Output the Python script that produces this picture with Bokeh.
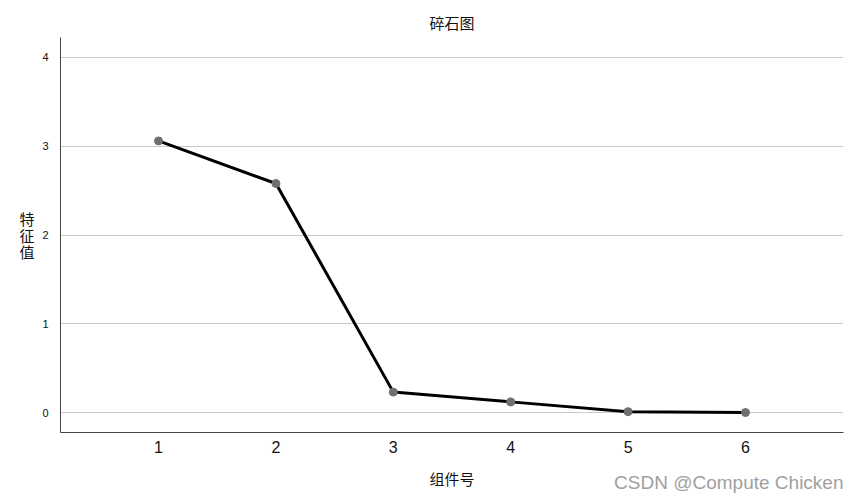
from bokeh.plotting import figure
from bokeh.models import Range1d, FixedTicker, Title
from bokeh.embed import file_html
from bokeh.resources import INLINE

components = [1, 2, 3, 4, 5, 6]
eigenvalues = [3.06, 2.58, 0.23, 0.12, 0.01, 0.00]
y_ticks = [0, 1, 2, 3, 4]

p = figure(width=850, height=500, output_backend="svg", toolbar_location=None,
           x_range=Range1d(0.165, 6.835), y_range=Range1d(-0.225, 4.225),
           min_border_left=60, min_border_right=7, min_border_top=37, min_border_bottom=68)
p.outline_line_color = None
p.title.text = "碎石图"
p.title.align = "center"
p.title.text_font = "Noto Sans CJK SC"
p.title.text_font_size = "15px"
p.title.text_font_style = "normal"
p.title.text_color = "#111111"

p.xgrid.grid_line_color = None
p.ygrid.grid_line_color = "#c8c8c8"
p.ygrid.ticker = FixedTicker(ticks=y_ticks)

p.xaxis.ticker = FixedTicker(ticks=components)
p.yaxis.ticker = FixedTicker(ticks=y_ticks)
for ax in (p.xaxis, p.yaxis):
    ax.major_tick_line_color = None
    ax.minor_tick_line_color = None
    ax.axis_line_color = "#444444"
    ax.major_label_text_font = "Liberation Sans"
    ax.major_label_text_color = "#111111"
p.xaxis.major_label_text_font_size = "16px"
p.yaxis.major_label_text_font_size = "11px"
p.xaxis.major_label_standoff = 2
p.yaxis.major_label_standoff = 6

p.xaxis.axis_label = "组件号"
p.xaxis.axis_label_text_font = "Noto Sans CJK SC"
p.xaxis.axis_label_text_font_size = "15px"
p.xaxis.axis_label_text_font_style = "normal"
p.xaxis.axis_label_text_color = "#111111"
p.xaxis.axis_label_standoff = 12

p.yaxis.axis_label = "特\n征\n值"
p.yaxis.axis_label_orientation = "horizontal"
p.yaxis.axis_label_text_font = "Noto Sans CJK SC"
p.yaxis.axis_label_text_font_size = "15px"
p.yaxis.axis_label_text_font_style = "normal"
p.yaxis.axis_label_text_color = "#111111"
p.yaxis.axis_label_text_line_height = 0.8
p.yaxis.axis_label_standoff = 5

p.line(components, eigenvalues, line_color="black", line_width=3)
p.scatter(components, eigenvalues, size=8, fill_color="#707070", line_color="#707070")

wm = Title(text="CSDN @Compute Chicken", align="right", text_font="Liberation Sans",
           text_font_size="19px", text_font_style="normal", text_color="#a0a0a0",
           vertical_align="top", standoff=-40)
p.add_layout(wm, "below")

open("out.html", "w").write(file_html(p, INLINE))
